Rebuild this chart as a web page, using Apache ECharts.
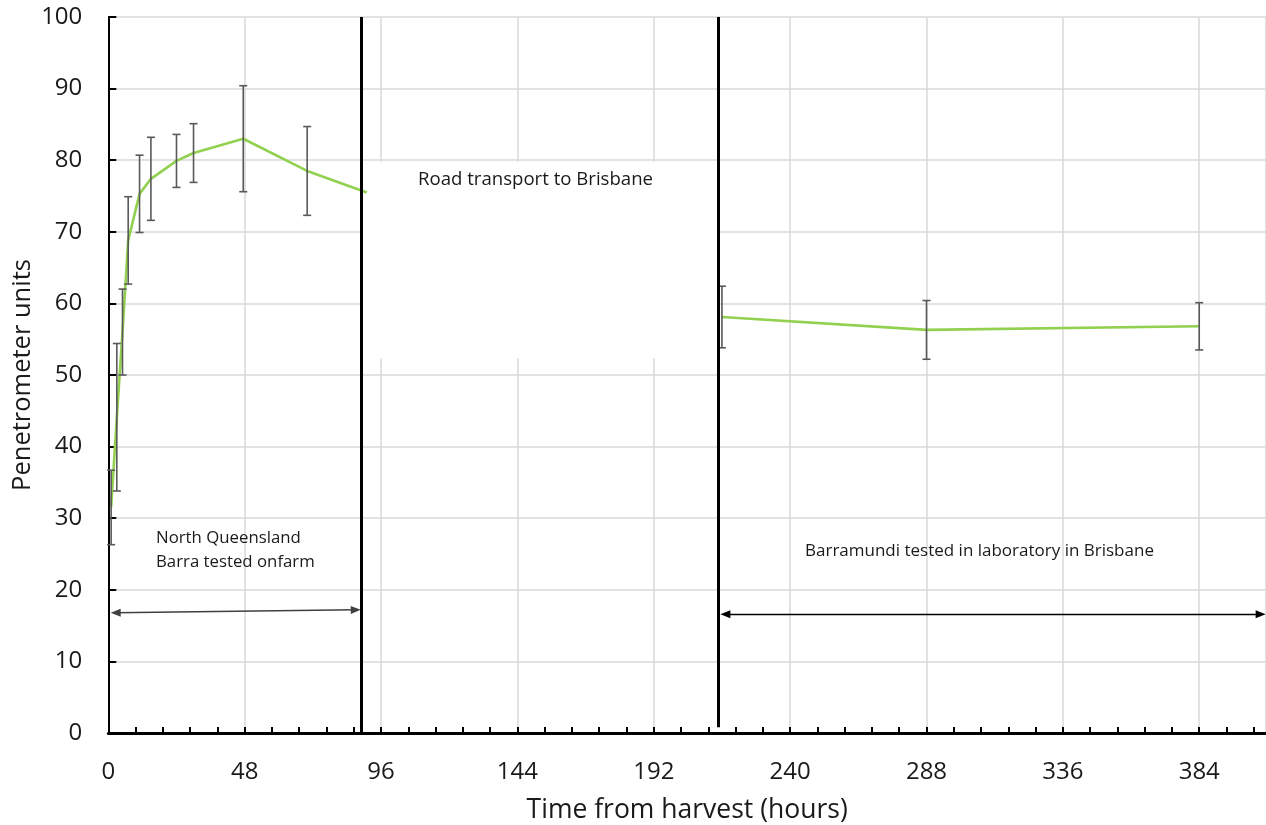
<!DOCTYPE html>
<html>
<head>
<meta charset="utf-8">
<script src="https://cdn.jsdelivr.net/npm/echarts@6/dist/echarts.min.js"></script>
<style>
  html, body { margin: 0; padding: 0; background: #ffffff; overflow: hidden; }
  #chart { width: 1266px; height: 825px; }
</style>
</head>
<body>
<div id="chart"></div>
<script>
// On-farm readings: hours after harvest, mean penetrometer units, error half-width
const farmHours = [1, 3, 5, 7, 11, 15, 24, 30, 47.5, 70, 91];
const farmMean  = [31.5, 44.1, 56.0, 68.8, 75.3, 77.4, 79.9, 81.0, 83.0, 78.5, 75.5];
const farmErr   = [5.2, 10.3, 6.0, 6.1, 5.4, 5.8, 3.7, 4.1, 7.4, 6.2, null];

// Laboratory readings in Brisbane
const labHours = [216, 288, 384];
const labMean  = [58.1, 56.3, 56.8];
const labErr   = [4.3, 4.1, 3.3];

// Boundaries between the handling stages (hours)
const farmEnd = 88.9;
const labStart = 214.6;

// Axis ticks
const xTickLabels = [0, 48, 96, 144, 192, 240, 288, 336, 384];
const xTickStep = 48;
const xMinorPerMajor = 5;
const xMax = 407.5;
const yTickStep = 10;
const yMax = 100;

const FONT = 'Open Sans';
const INK = '#1a1a1a';
const LINE_GREEN = '#92D050';
const BAR_GREY = '#595959';

// small tick marks every 48/5 hours along the time axis
const xTickMarks = [];
for (let k = 0; k * xTickStep / xMinorPerMajor <= xMax; k++) {
  xTickMarks.push(+(k * xTickStep / xMinorPerMajor).toFixed(2));
}

function pairs(xs, ys) { return xs.map((x, i) => [x, ys[i]]); }
function bars(xs, ms, es) {
  const out = [];
  xs.forEach((x, i) => { if (es[i] != null) out.push([x, ms[i] - es[i], ms[i] + es[i]]); });
  return out;
}

function renderErrorBar(params, api) {
  const x = api.value(0);
  const top = api.coord([x, api.value(2)]);
  const bot = api.coord([x, api.value(1)]);
  const cap = 4;
  const style = { stroke: BAR_GREY, lineWidth: 1.6 };
  return {
    type: 'group',
    children: [
      { type: 'line', shape: { x1: top[0], y1: top[1], x2: bot[0], y2: bot[1] }, style },
      { type: 'line', shape: { x1: top[0] - cap, y1: top[1], x2: top[0] + cap, y2: top[1] }, style },
      { type: 'line', shape: { x1: bot[0] - cap, y1: bot[1], x2: bot[0] + cap, y2: bot[1] }, style }
    ]
  };
}

const chart = echarts.init(document.getElementById('chart'), null, { renderer: 'canvas' });

const option = {
  backgroundColor: '#ffffff',
  animation: false,
  grid: { left: 108.3, top: 17, bottom: 92, right: 0, containLabel: false, outerBoundsMode: 'none' },
  xAxis: [{
    // bottom time axis: labels every 48 h, small ticks every 9.6 h
    type: 'value',
    min: 0,
    max: xMax,
    interval: xTickStep,
    name: 'Time from harvest (hours)',
    nameLocation: 'middle',
    nameGap: 64,
    nameMoveOverlap: false,
    nameTextStyle: { fontFamily: FONT, fontSize: 26.5, color: INK },
    axisLine: { show: true, onZero: false, lineStyle: { color: '#000', width: 3 } },
    axisTick: { show: true, inside: true, length: 6, customValues: xTickMarks, lineStyle: { color: '#000', width: 2 } },
    axisLabel: { fontFamily: FONT, fontSize: 24, color: INK, margin: 27, customValues: xTickLabels },
    splitLine: { show: false },
    z: 6
  }, {
    // top edge of the plot, also carries the vertical grid lines
    type: 'value',
    position: 'top',
    min: 0,
    max: xMax,
    interval: xTickStep,
    axisLine: { show: true, lineStyle: { color: '#8c8c8c', width: 1.5 } },
    axisTick: { show: false },
    axisLabel: { show: false },
    splitLine: { show: true, lineStyle: { color: '#d9d9d9', width: 1.5 } }
  }],
  yAxis: {
    type: 'value',
    min: 0,
    max: yMax,
    interval: yTickStep,
    name: 'Penetrometer units',
    nameLocation: 'middle',
    nameGap: 73,
    nameMoveOverlap: false,
    nameTextStyle: { fontFamily: FONT, fontSize: 25.5, color: INK },
    axisLine: { show: true, lineStyle: { color: '#000', width: 2 } },
    axisTick: { show: true, inside: true, length: 8, lineStyle: { color: '#000', width: 2 } },
    axisLabel: { fontFamily: FONT, fontSize: 24, color: INK, margin: 26 },
    splitLine: { show: true, lineStyle: { color: '#d9d9d9', width: 1.5 } }
  },
  series: [
    {
      // white label panel for the transport stage
      type: 'line',
      data: [],
      z: 1,
      markArea: {
        silent: true,
        itemStyle: { color: '#ffffff', opacity: 1 },
        data: [[{ coord: [farmEnd + 0.8, 52.3] }, { coord: [labStart - 0.6, 79.8] }]]
      }
    },
    {
      name: 'On farm',
      type: 'line',
      z: 3,
      data: pairs(farmHours, farmMean),
      showSymbol: false,
      symbol: 'none',
      lineStyle: { color: LINE_GREEN, width: 2.6 },
      itemStyle: { color: LINE_GREEN }
    },
    {
      name: 'Laboratory',
      type: 'line',
      z: 3,
      data: pairs(labHours, labMean),
      showSymbol: false,
      symbol: 'none',
      lineStyle: { color: LINE_GREEN, width: 2.6 },
      itemStyle: { color: LINE_GREEN }
    },
    {
      type: 'custom',
      z: 4,
      renderItem: renderErrorBar,
      data: bars(farmHours, farmMean, farmErr).concat(bars(labHours, labMean, labErr))
    },
    {
      // stage boundaries and duration arrows
      type: 'line',
      data: [],
      z: 5,
      markLine: {
        silent: true,
        animation: false,
        label: { show: false },
        data: [
          [{ coord: [farmEnd, 0], symbol: 'none', lineStyle: { color: '#000', width: 3, type: 'solid' } },
           { coord: [farmEnd, yMax], symbol: 'none' }],
          [{ coord: [labStart, 0.8], symbol: 'none', lineStyle: { color: '#000', width: 3, type: 'solid' } },
           { coord: [labStart, yMax], symbol: 'none' }],
          [{ coord: [2.6, 16.8], symbol: 'triangle', symbolSize: [8, 10], lineStyle: { color: '#404040', width: 1.5, type: 'solid' } },
           { coord: [farmEnd - 1.8, 17.2], symbol: 'triangle', symbolSize: [8, 10] }],
          [{ coord: [217.2, 16.6], symbol: 'triangle', symbolSize: [8, 10], lineStyle: { color: '#000', width: 1.3, type: 'solid' } },
           { coord: [405.6, 16.6], symbol: 'triangle', symbolSize: [8, 10] }]
        ]
      }
    }
  ],
  graphic: [
    { type: 'text', left: 418, top: 170, z: 10,
      style: { text: 'Road transport to Brisbane', fontFamily: FONT, fontSize: 18.6, fill: INK } },
    { type: 'text', left: 156, top: 526, z: 10,
      style: { text: 'North Queensland\nBarra tested onfarm', fontFamily: FONT, fontSize: 16.8, lineHeight: 24, fill: INK } },
    { type: 'text', left: 805, top: 543, z: 10,
      style: { text: 'Barramundi tested in laboratory in Brisbane', fontFamily: FONT, fontSize: 17, fill: INK } }
  ]
};

chart.setOption(option);
</script>
</body>
</html>
